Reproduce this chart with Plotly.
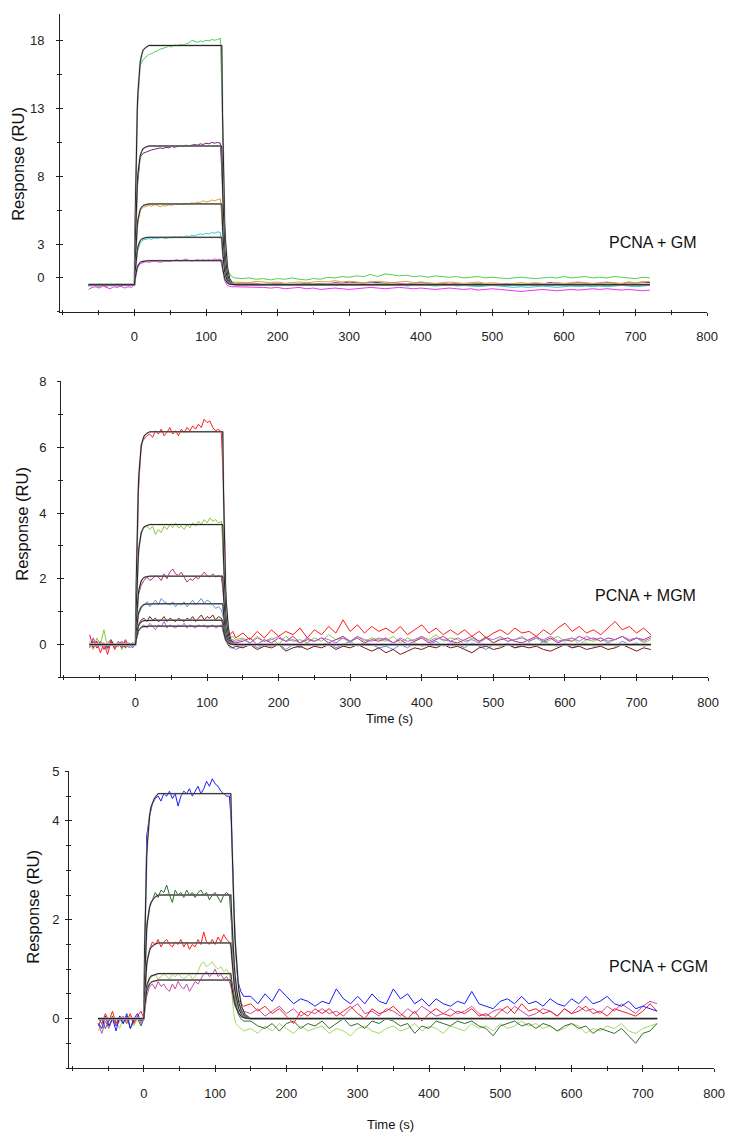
import plotly.graph_objects as go

# time grid of the measured traces (s)
T_BASE = [-64, -59, -54, -49, -44, -39, -34, -29, -24, -19, -14, -9, -4]
T_ASSOC = list(range(0, 121, 4))
T_FAST = [123, 126, 129, 132, 136, 140]
T_SLOW = list(range(150, 721, 10))
T_DATA = T_BASE + T_ASSOC + T_FAST + T_SLOW

# time grid of the fitted curves (s)
T_FIT = [-64, 0, 1, 2, 3, 4, 5, 6, 8, 10, 12, 15, 20, 30, 122,
         123, 124, 125, 126, 127, 128, 130, 133, 137, 142, 150, 720]

# ---------------- PCNA + GM ----------------
GM_GREEN = [
    -0.1, 0.05, -0.05, -0.15, 0.0, -0.1, 0.05, -0.05, -0.1, 0.0, -0.05, 0.0, -0.05,
    0.0, 13.0, 16.2, 16.6, 16.8, 17.0, 17.05, 17.2, 17.25, 17.4, 17.45, 17.5, 17.6, 17.55, 17.7,
    17.65, 17.75, 17.7, 17.8, 17.85, 18.05, 17.95, 17.9, 18.0, 17.95, 18.05, 18.0, 18.1, 18.05, 18.1, 18.2,
    12.5, 4.0, 1.6, 0.9, 0.6, 0.5,
    0.45, 0.5, 0.4, 0.45, 0.35, 0.45, 0.4, 0.5, 0.4, 0.35,
    0.45, 0.4, 0.55, 0.5, 0.6, 0.55, 0.65, 0.6, 0.75, 0.6,
    0.8, 0.7, 0.65, 0.7, 0.6, 0.65, 0.55, 0.65, 0.6, 0.55,
    0.6, 0.5, 0.55, 0.6, 0.5, 0.55, 0.5, 0.45, 0.5, 0.55,
    0.5, 0.45, 0.5, 0.55, 0.5, 0.6, 0.5, 0.55, 0.6, 0.5,
    0.55, 0.5, 0.6, 0.55, 0.5, 0.45, 0.55, 0.5,
]
GM_PURPLE = [
    -0.05, 0.0, -0.1, 0.05, -0.05, -0.1, 0.0, -0.05, 0.05, -0.1, 0.0, -0.05, 0.0,
    0.0, 7.2, 9.4, 9.7, 9.8, 9.9, 9.95, 10.0, 10.05, 10.1, 10.05, 10.15, 10.1, 10.2, 10.15,
    10.2, 10.25, 10.2, 10.3, 10.25, 10.3, 10.35, 10.3, 10.4, 10.35, 10.45, 10.4, 10.5, 10.45, 10.5, 10.45,
    7.3, 2.4, 0.8, 0.3, 0.15, 0.1,
    0.1, 0.05, 0.1, 0.0, 0.05, 0.1, 0.05, 0.0, 0.05, 0.1,
    0.05, 0.1, 0.05, 0.15, 0.1, 0.2, 0.15, 0.1, 0.2, 0.15,
    0.1, 0.15, 0.1, 0.05, 0.1, 0.15, 0.1, 0.05, 0.1, 0.05,
    0.1, 0.0, 0.05, 0.1, 0.05, 0.0, 0.05, 0.1, 0.05, 0.0,
    0.05, 0.1, 0.05, 0.15, 0.1, 0.05, 0.1, 0.15, 0.1, 0.05,
    0.1, 0.15, 0.1, 0.05, 0.15, 0.1, 0.2, 0.15,
]
GM_ORANGE = [
    -0.05, -0.1, 0.0, -0.05, 0.05, -0.1, -0.05, 0.0, -0.1, 0.05, -0.05, 0.0, -0.05,
    0.0, 4.3, 5.5, 5.7, 5.8, 5.85, 5.8, 5.9, 5.85, 5.75, 5.85, 5.8, 5.9, 5.85, 5.95,
    5.9, 5.95, 5.9, 6.0, 5.95, 6.05, 6.0, 6.1, 6.05, 6.2, 6.1, 6.15, 6.25, 6.2, 6.3, 6.35,
    4.3, 1.5, 0.55, 0.3, 0.2, 0.2,
    0.2, 0.15, 0.25, 0.2, 0.15, 0.2, 0.1, 0.15, 0.2, 0.15,
    0.2, 0.25, 0.2, 0.3, 0.2, 0.25, 0.2, 0.15, 0.2, 0.25,
    0.2, 0.15, 0.2, 0.25, 0.15, 0.2, 0.15, 0.1, 0.15, 0.2,
    0.15, 0.1, 0.15, 0.2, 0.1, 0.15, 0.1, 0.05, 0.1, 0.15,
    0.1, 0.15, 0.1, 0.05, 0.15, 0.1, 0.15, 0.2, 0.15, 0.1,
    0.15, 0.2, 0.15, 0.1, 0.2, 0.15, 0.2, 0.25,
]
GM_CYAN = [
    -0.1, -0.05, 0.0, -0.1, -0.05, 0.05, -0.1, -0.05, 0.0, -0.1, -0.05, 0.0, -0.05,
    0.0, 2.4, 3.1, 3.3, 3.35, 3.4, 3.35, 3.45, 3.4, 3.5, 3.45, 3.4, 3.5, 3.45, 3.55,
    3.5, 3.55, 3.5, 3.6, 3.55, 3.65, 3.6, 3.7, 3.75, 3.7, 3.8, 3.75, 3.85, 3.8, 3.9, 3.85,
    2.6, 0.9, 0.3, 0.1, 0.0, 0.0,
    0.0, 0.05, -0.05, 0.0, 0.05, 0.0, -0.05, 0.0, 0.05, 0.0,
    -0.05, 0.0, 0.05, 0.0, -0.05, 0.05, 0.0, -0.05, 0.0, 0.05,
    0.0, -0.05, 0.0, -0.1, -0.05, 0.0, -0.05, -0.1, -0.05, 0.0,
    -0.1, -0.05, -0.1, -0.15, -0.1, -0.05, -0.1, -0.15, -0.2, -0.15,
    -0.2, -0.15, -0.1, -0.15, -0.2, -0.15, -0.1, -0.15, -0.1, -0.15,
    -0.1, -0.15, -0.1, -0.05, -0.1, -0.15, -0.1, -0.05,
]
GM_MAGENTA = [
    -0.35, -0.2, -0.15, -0.25, -0.1, -0.2, -0.3, -0.15, -0.2, -0.1, -0.25, -0.15, -0.2,
    0.0, 1.2, 1.55, 1.65, 1.7, 1.65, 1.7, 1.75, 1.7, 1.65, 1.7, 1.75, 1.7, 1.75, 1.8,
    1.85, 1.75, 1.8, 1.9, 1.8, 1.75, 1.8, 1.85, 1.8, 1.85, 1.8, 1.85, 1.8, 1.9, 1.85, 1.9,
    1.2, 0.3, 0.0, -0.1, -0.15, -0.15,
    -0.15, -0.2, -0.15, -0.2, -0.25, -0.2, -0.3, -0.25, -0.2, -0.3,
    -0.25, -0.35, -0.3, -0.25, -0.3, -0.35, -0.3, -0.25, -0.2, -0.25,
    -0.3, -0.25, -0.2, -0.25, -0.3, -0.25, -0.3, -0.35, -0.3, -0.25,
    -0.3, -0.35, -0.3, -0.4, -0.35, -0.3, -0.35, -0.4, -0.45, -0.5,
    -0.45, -0.4, -0.35, -0.4, -0.45, -0.4, -0.35, -0.4, -0.35, -0.3,
    -0.35, -0.3, -0.35, -0.4, -0.35, -0.4, -0.45, -0.4,
]
GM_FIT_GREEN = [0, 0, 4.94, 8.65, 11.13, 13.07, 14.3, 15.19, 16.42, 16.95, 17.31, 17.48, 17.66, 17.66, 17.66,
                12.72, 9.0, 6.53, 4.59, 3.36, 2.47, 1.24, 0.44, 0.11, 0, 0, 0]
GM_FIT_PURPLE = [0, 0, 2.87, 5.02, 6.45, 7.58, 8.29, 8.81, 9.52, 9.83, 10.04, 10.14, 10.24, 10.24, 10.24,
                 7.37, 5.22, 3.79, 2.66, 1.95, 1.43, 0.72, 0.26, 0.06, 0, 0, 0]
GM_FIT_ORANGE = [0, 0, 1.67, 2.92, 3.75, 4.41, 4.83, 5.13, 5.54, 5.72, 5.84, 5.9, 5.96, 5.96, 5.96,
                 4.29, 3.04, 2.21, 1.55, 1.13, 0.83, 0.42, 0.15, 0.04, 0, 0, 0]
GM_FIT_CYAN = [0, 0, 0.98, 1.72, 2.21, 2.59, 2.84, 3.01, 3.26, 3.36, 3.43, 3.47, 3.5, 3.5, 3.5,
               2.52, 1.79, 1.3, 0.91, 0.67, 0.49, 0.25, 0.09, 0.02, 0, 0, 0]
GM_FIT_MAGENTA = [0, 0, 0.5, 0.87, 1.12, 1.31, 1.43, 1.52, 1.65, 1.7, 1.73, 1.75, 1.77, 1.77, 1.77,
                  1.27, 0.9, 0.65, 0.46, 0.34, 0.25, 0.12, 0.04, 0.01, 0, 0, 0]

# ---------------- PCNA + MGM ----------------
MGM_RED = [
    0.3, -0.1, 0.1, -0.25, 0.05, -0.3, 0.1, -0.15, 0.05, -0.1, 0.15, -0.05, 0.0,
    0.0, 4.6, 6.1, 6.25, 6.35, 6.4, 6.3, 6.5, 6.4, 6.55, 6.35, 6.45, 6.6, 6.4, 6.5,
    6.35, 6.55, 6.45, 6.6, 6.5, 6.65, 6.55, 6.7, 6.6, 6.85, 6.75, 6.8, 6.6, 6.5, 6.55, 6.45,
    4.8, 1.6, 0.6, 0.3, 0.4, 0.2,
    0.35, 0.15, 0.4, 0.2, 0.45, 0.25, 0.4, 0.3, 0.5, 0.2,
    0.45, 0.3, 0.55, 0.35, 0.75, 0.4, 0.6, 0.35, 0.55, 0.4,
    0.5, 0.35, 0.55, 0.3, 0.45, 0.6, 0.35, 0.5, 0.3, 0.45,
    0.3, 0.45, 0.25, 0.4, 0.2, 0.35, 0.45, 0.3, 0.5, 0.35,
    0.4, 0.25, 0.45, 0.3, 0.5, 0.65, 0.4, 0.55, 0.35, 0.45,
    0.3, 0.5, 0.7, 0.45, 0.55, 0.35, 0.5, 0.3,
]
MGM_GREEN = [
    0.1, -0.15, 0.2, 0.0, 0.45, -0.1, 0.15, -0.05, 0.1, -0.15, 0.05, 0.0, -0.05,
    0.0, 2.8, 3.45, 3.55, 3.6, 3.5, 3.6, 3.35, 3.5, 3.4, 3.6, 3.5, 3.65, 3.55, 3.7,
    3.55, 3.6, 3.5, 3.65, 3.55, 3.7, 3.6, 3.75, 3.65, 3.8, 3.7, 3.85, 3.75, 3.8, 3.7, 3.75,
    2.6, 0.9, 0.35, 0.2, 0.25, 0.15,
    0.2, 0.05, 0.25, 0.1, 0.2, 0.0, 0.25, 0.1, 0.15, 0.05,
    0.2, 0.1, 0.3, 0.15, 0.2, 0.05, 0.25, 0.1, 0.2, 0.15,
    0.1, 0.25, 0.05, 0.2, 0.1, 0.25, 0.15, 0.3, 0.1, 0.2,
    0.15, 0.0, 0.2, 0.1, 0.25, 0.05, 0.2, 0.1, 0.15, 0.25,
    0.1, 0.2, 0.05, 0.15, 0.25, 0.1, 0.2, 0.0, 0.15, 0.1,
    0.2, 0.05, 0.15, 0.25, 0.1, 0.2, 0.05, 0.15,
]
MGM_MAGENTA = [
    -0.1, 0.2, -0.05, 0.1, -0.15, 0.05, 0.15, -0.1, 0.0, 0.1, -0.05, 0.05, -0.1,
    0.0, 1.5, 1.8, 1.95, 2.05, 1.95, 2.0, 2.1, 2.05, 1.95, 2.15, 2.0, 2.2, 2.3, 2.15,
    2.1, 2.2, 2.05, 1.9, 2.0, 1.95, 2.05, 2.0, 2.1, 2.2, 2.1, 2.05, 2.15, 2.05, 2.1, 2.05,
    1.5, 0.5, 0.15, 0.05, 0.1, 0.05,
    0.1, 0.2, 0.0, 0.15, 0.05, 0.2, 0.1, 0.25, 0.05, 0.15,
    0.1, 0.2, 0.05, 0.15, 0.25, 0.1, 0.2, 0.05, 0.15, 0.1,
    0.2, 0.05, 0.15, 0.0, 0.1, 0.2, 0.05, 0.15, 0.25, 0.1,
    0.05, 0.15, 0.25, 0.1, 0.2, 0.05, 0.15, 0.2, 0.1, 0.05,
    0.15, 0.25, 0.1, 0.2, 0.05, 0.15, 0.1, 0.25, 0.15, 0.2,
    0.1, 0.2, 0.15, 0.25, 0.1, 0.2, 0.15, 0.25,
]
MGM_BLUE = [
    0.05, -0.1, 0.1, -0.05, 0.0, -0.15, 0.05, -0.1, 0.0, -0.05, 0.1, -0.1, -0.05,
    0.0, 0.9, 1.1, 1.2, 1.3, 1.15, 1.25, 1.35, 1.2, 1.4, 1.3, 1.25, 1.2, 1.3, 1.15,
    1.25, 1.2, 1.3, 1.15, 1.25, 1.35, 1.2, 1.3, 1.4, 1.25, 1.35, 1.3, 1.2, 1.1, 1.15, 1.05,
    0.8, 0.2, 0.0, -0.1, -0.1, -0.15,
    -0.05, 0.05, -0.1, 0.0, -0.05, 0.05, -0.15, 0.0, -0.1, 0.05,
    -0.05, 0.0, 0.05, -0.1, 0.0, 0.1, -0.05, 0.05, 0.0, -0.1,
    -0.05, -0.15, 0.0, -0.1, 0.05, -0.05, 0.0, 0.1, -0.05, 0.05,
    0.0, -0.1, 0.05, -0.05, -0.15, 0.0, -0.05, 0.05, -0.1, 0.0,
    0.05, -0.05, 0.1, 0.0, -0.05, 0.05, -0.1, 0.0, 0.05, -0.05,
    0.0, 0.05, -0.05, 0.1, 0.0, 0.05, -0.05, 0.0,
]
MGM_BROWN = [
    -0.05, 0.1, -0.1, 0.0, 0.05, -0.1, 0.1, 0.0, -0.05, 0.05, -0.1, 0.0, 0.05,
    0.0, 0.6, 0.75, 0.8, 0.7, 0.85, 0.75, 0.8, 0.7, 0.75, 0.85, 0.7, 0.8, 0.75, 0.7,
    0.8, 0.75, 0.7, 0.8, 0.75, 0.85, 0.7, 0.8, 0.9, 0.75, 0.85, 0.8, 0.9, 0.75, 0.85, 0.8,
    0.5, 0.15, 0.0, -0.05, -0.1, -0.05,
    -0.1, 0.0, -0.15, -0.05, -0.1, 0.0, -0.2, -0.1, -0.05, -0.15,
    -0.05, -0.1, 0.0, -0.15, -0.05, -0.1, 0.0, -0.1, -0.2, -0.1,
    -0.25, -0.15, -0.3, -0.2, -0.1, -0.15, -0.05, -0.1, 0.0, -0.1,
    -0.05, -0.15, -0.25, -0.1, -0.05, -0.15, -0.1, 0.0, -0.1, -0.05,
    -0.1, -0.05, -0.15, -0.2, -0.1, 0.0, -0.1, -0.05, -0.15, -0.1,
    -0.05, -0.15, -0.1, 0.0, -0.1, -0.2, -0.1, -0.15,
]
MGM_PURPLE = [
    0.0, 0.1, -0.05, 0.05, -0.1, 0.0, 0.05, -0.05, 0.1, 0.0, -0.05, 0.05, 0.0,
    0.0, 0.4, 0.55, 0.6, 0.5, 0.65, 0.55, 0.45, 0.6, 0.55, 0.7, 0.5, 0.6, 0.55, 0.5,
    0.6, 0.55, 0.65, 0.5, 0.6, 0.55, 0.5, 0.6, 0.55, 0.6, 0.5, 0.55, 0.6, 0.5, 0.55, 0.6,
    0.35, 0.1, 0.05, 0.1, 0.15, 0.1,
    0.15, 0.05, 0.2, 0.1, 0.15, 0.25, 0.1, 0.15, 0.05, 0.2,
    0.1, 0.2, 0.15, 0.05, 0.2, 0.1, 0.25, 0.15, 0.1, 0.2,
    0.15, 0.05, 0.2, 0.1, 0.15, 0.25, 0.1, 0.2, 0.15, 0.1,
    0.2, 0.1, 0.15, 0.05, 0.2, 0.15, 0.25, 0.1, 0.15, 0.2,
    0.1, 0.2, 0.15, 0.25, 0.1, 0.15, 0.2, 0.1, 0.25, 0.15,
    0.2, 0.1, 0.15, 0.25, 0.15, 0.2, 0.1, 0.2,
]
MGM_FIT_RED = [0, 0, 1.81, 3.17, 4.08, 4.79, 5.24, 5.56, 6.02, 6.21, 6.34, 6.41, 6.47, 6.47, 6.47,
               4.66, 3.3, 2.39, 1.68, 1.23, 0.91, 0.45, 0.16, 0.04, 0, 0, 0]
MGM_FIT_GREEN = [0, 0, 1.02, 1.79, 2.3, 2.7, 2.96, 3.14, 3.39, 3.5, 3.58, 3.61, 3.65, 3.65, 3.65,
                 2.63, 1.86, 1.35, 0.95, 0.69, 0.51, 0.26, 0.09, 0.02, 0, 0, 0]
MGM_FIT_MAGENTA = [0, 0, 0.58, 1.02, 1.31, 1.54, 1.68, 1.79, 1.93, 2.0, 2.04, 2.06, 2.08, 2.08, 2.08,
                   1.5, 1.06, 0.77, 0.54, 0.4, 0.29, 0.15, 0.05, 0.01, 0, 0, 0]
MGM_FIT_BLUE = [0, 0, 0.35, 0.61, 0.78, 0.92, 1.0, 1.07, 1.15, 1.19, 1.22, 1.23, 1.24, 1.24, 1.24,
                0.89, 0.63, 0.46, 0.32, 0.24, 0.17, 0.09, 0.03, 0.01, 0, 0, 0]
MGM_FIT_BROWN = [0, 0, 0.21, 0.36, 0.47, 0.55, 0.6, 0.64, 0.69, 0.71, 0.73, 0.73, 0.74, 0.74, 0.74,
                 0.53, 0.38, 0.27, 0.19, 0.14, 0.1, 0.05, 0.02, 0, 0, 0, 0]
MGM_FIT_PURPLE = [0, 0, 0.16, 0.27, 0.35, 0.41, 0.45, 0.48, 0.52, 0.54, 0.55, 0.55, 0.56, 0.56, 0.56,
                  0.4, 0.29, 0.21, 0.15, 0.11, 0.08, 0.04, 0.01, 0, 0, 0, 0]

# ---------------- PCNA + CGM ----------------
CGM_BLUE = [
    -0.1, -0.2, 0.05, -0.15, 0.0, -0.25, 0.05, -0.1, 0.1, -0.2, 0.0, 0.1, -0.05,
    0.0, 3.7, 4.1, 4.35, 4.45, 4.5, 4.4, 4.55, 4.5, 4.6, 4.45, 4.55, 4.3, 4.5, 4.6,
    4.55, 4.65, 4.5, 4.6, 4.7, 4.55, 4.65, 4.8, 4.7, 4.85, 4.75, 4.7, 4.6, 4.55, 4.5, 4.5,
    3.9, 2.4, 1.3, 0.75, 0.55, 0.45,
    0.45, 0.3, 0.5, 0.35, 0.6, 0.45, 0.3, 0.4, 0.35, 0.25,
    0.35, 0.3, 0.6, 0.4, 0.3, 0.45, 0.3, 0.5, 0.35, 0.3,
    0.6, 0.4, 0.5, 0.3, 0.4, 0.25, 0.4, 0.3, 0.25, 0.35,
    0.3, 0.55, 0.3, 0.25, 0.2, 0.35, 0.4, 0.3, 0.45, 0.3,
    0.35, 0.25, 0.4, 0.3, 0.25, 0.4, 0.3, 0.45, 0.3, 0.35,
    0.45, 0.3, 0.25, 0.35, 0.2, 0.25, 0.2, 0.15,
]
CGM_DKGREEN = [
    -0.15, 0.0, -0.2, -0.05, 0.05, -0.15, 0.0, -0.1, 0.05, -0.2, -0.05, 0.0, -0.15,
    0.0, 1.9, 2.25, 2.4, 2.55, 2.45, 2.6, 2.55, 2.7, 2.5, 2.35, 2.6, 2.5, 2.55, 2.45,
    2.6, 2.5, 2.55, 2.45, 2.55, 2.6, 2.5, 2.55, 2.4, 2.5, 2.55, 2.45, 2.35, 2.5, 2.55, 2.5,
    1.9, 0.9, 0.35, 0.1, 0.0, -0.05,
    -0.05, -0.15, -0.2, -0.1, -0.25, -0.1, -0.05, -0.2, -0.1, -0.15,
    -0.05, -0.2, -0.1, 0.0, -0.15, -0.1, -0.2, -0.05, -0.1, 0.0,
    -0.05, -0.15, -0.1, -0.3, -0.15, -0.2, -0.05, -0.1, -0.15, -0.05,
    -0.1, -0.05, -0.15, -0.2, -0.35, -0.15, -0.1, -0.05, -0.15, -0.1,
    -0.2, -0.1, -0.15, -0.25, -0.15, -0.1, -0.2, -0.15, -0.3, -0.2,
    -0.25, -0.3, -0.2, -0.35, -0.5, -0.3, -0.25, -0.1,
]
CGM_RED = [
    0.0, -0.1, 0.1, -0.05, 0.15, -0.1, 0.05, 0.0, -0.05, 0.1, -0.1, 0.05, 0.15,
    0.0, 1.1, 1.4, 1.55, 1.5, 1.6, 1.45, 1.55, 1.6, 1.5, 1.45, 1.55, 1.5, 1.6, 1.45,
    1.55, 1.4, 1.5, 1.45, 1.6, 1.5, 1.75, 1.55, 1.5, 1.6, 1.5, 1.65, 1.55, 1.7, 1.6, 1.55,
    1.4, 0.9, 0.55, 0.4, 0.3, 0.25,
    0.3, 0.15, 0.25, 0.1, 0.2, 0.05, -0.1, 0.15, 0.05, 0.2,
    0.1, 0.2, 0.05, 0.15, 0.25, 0.1, 0.0, 0.2, 0.1, 0.15,
    0.25, 0.1, 0.0, 0.15, -0.05, 0.1, 0.2, 0.1, 0.05, 0.15,
    0.1, 0.2, 0.05, 0.1, 0.0, 0.15, 0.25, 0.1, 0.3, 0.15,
    0.2, 0.1, 0.15, 0.05, 0.2, 0.1, 0.15, 0.25, 0.1, 0.15,
    0.05, 0.2, 0.15, 0.1, 0.05, 0.15, 0.3, 0.15,
]
CGM_LTGREEN = [
    -0.25, -0.1, 0.0, -0.15, 0.05, -0.05, -0.2, 0.0, -0.1, 0.05, -0.15, 0.0, -0.05,
    0.0, 0.6, 0.8, 0.85, 0.9, 0.8, 0.85, 0.9, 0.85, 0.8, 0.9, 0.85, 0.9, 0.85, 0.8,
    0.85, 0.9, 0.8, 0.85, 0.95, 1.1, 1.15, 1.05, 1.1, 1.15, 1.05, 1.0, 1.05, 0.95, 1.0, 0.9,
    0.6, 0.1, -0.1, -0.15, -0.2, -0.25,
    -0.2, -0.3, -0.15, -0.25, -0.1, -0.2, -0.3, -0.15, -0.25, -0.2,
    -0.15, -0.3, -0.2, -0.25, -0.35, -0.2, -0.15, -0.25, -0.3, -0.2,
    -0.15, -0.25, -0.2, -0.1, -0.25, -0.15, -0.2, -0.3, -0.15, -0.2,
    -0.25, -0.1, -0.2, -0.15, -0.25, -0.1, -0.2, -0.15, -0.05, -0.15,
    -0.1, -0.2, -0.15, -0.25, -0.2, -0.1, -0.15, -0.3, -0.2, -0.25,
    -0.15, -0.2, -0.1, -0.25, -0.3, -0.2, -0.15, -0.1,
]
CGM_MAGENTA = [
    -0.1, -0.3, -0.05, -0.2, 0.0, -0.15, -0.05, 0.05, -0.1, 0.0, -0.05, 0.05, -0.1,
    0.0, 0.45, 0.65, 0.7, 0.6, 0.75, 0.65, 0.7, 0.6, 0.55, 0.7, 0.6, 0.75, 0.65, 0.6,
    0.7, 0.55, 0.65, 0.75, 0.7, 0.8, 0.9, 0.95, 0.85, 0.9, 1.0, 0.85, 0.9, 0.8, 0.85, 0.75,
    0.6, 0.35, 0.25, 0.2, 0.15, 0.15,
    0.1, 0.2, 0.05, 0.15, 0.25, 0.1, 0.2, 0.05, 0.15, 0.1,
    0.2, 0.1, 0.15, 0.05, 0.2, 0.3, 0.1, 0.15, 0.05, 0.2,
    0.15, 0.05, 0.2, 0.1, 0.25, 0.15, 0.05, 0.1, 0.2, 0.1,
    0.15, 0.25, 0.1, 0.05, 0.15, 0.2, 0.1, 0.25, 0.15, 0.05,
    0.1, 0.2, 0.15, 0.05, 0.2, 0.1, 0.25, 0.15, 0.2, 0.1,
    0.25, 0.15, 0.3, 0.2, 0.1, 0.25, 0.35, 0.3,
]
CGM_FIT_BLUE = [0, 0, 1.37, 2.28, 2.87, 3.28, 3.55, 3.78, 4.1, 4.28, 4.37, 4.46, 4.55, 4.55, 4.55,
                3.87, 3.28, 2.73, 2.28, 1.91, 1.59, 1.09, 0.59, 0.25, 0.08, 0, 0]
CGM_FIT_DKGREEN = [0, 0, 0.75, 1.25, 1.58, 1.8, 1.95, 2.08, 2.25, 2.35, 2.4, 2.45, 2.5, 2.5, 2.5,
                   2.13, 1.8, 1.5, 1.25, 1.05, 0.88, 0.6, 0.33, 0.14, 0.05, 0, 0]
CGM_FIT_RED = [0, 0, 0.46, 0.77, 0.96, 1.1, 1.19, 1.27, 1.38, 1.44, 1.47, 1.5, 1.53, 1.53, 1.53,
               1.3, 1.1, 0.92, 0.77, 0.64, 0.54, 0.37, 0.2, 0.08, 0.03, 0, 0]
CGM_FIT_LTGREEN = [0, 0, 0.27, 0.46, 0.57, 0.66, 0.71, 0.76, 0.82, 0.86, 0.87, 0.89, 0.91, 0.91, 0.91,
                   0.77, 0.66, 0.55, 0.46, 0.38, 0.32, 0.22, 0.12, 0.05, 0.02, 0, 0]
CGM_FIT_MAGENTA = [0, 0, 0.23, 0.39, 0.49, 0.56, 0.61, 0.65, 0.7, 0.73, 0.75, 0.76, 0.78, 0.78, 0.78,
                   0.66, 0.56, 0.47, 0.39, 0.33, 0.27, 0.19, 0.1, 0.04, 0.01, 0, 0]

LABELS = ["PCNA + GM", "PCNA + MGM", "PCNA + CGM"]
X_TICKS = [0, 100, 200, 300, 400, 500, 600, 700, 800]
Y_TICKS = [[0.5, 3, 8, 13, 18], [0, 2, 4, 6, 8], [0, 2, 4, 5]]
Y_TICKTEXT = [["0", "3", "8", "13", "18"], ["0", "2", "4", "6", "8"], ["0", "2", "4", "5"]]

panels = [
    dict(data=[(GM_GREEN, "#55cc55"), (GM_PURPLE, "#7a1f7a"), (GM_ORANGE, "#e0a030"),
               (GM_CYAN, "#33cccc"), (GM_MAGENTA, "#ee33ee")],
         fits=[GM_FIT_GREEN, GM_FIT_PURPLE, GM_FIT_ORANGE, GM_FIT_CYAN, GM_FIT_MAGENTA],
         px=(60, 707), py=(14, 312), xr=[-104, 800], yr=[-2, 20],
         minor=dict(tick0=0.5, dtick=2.5), ystand=9, lab=(653, 243), xtitle=None),
    dict(data=[(MGM_GREEN, "#8cc63f"), (MGM_MAGENTA, "#b5307e"), (MGM_BLUE, "#5b8fe6"),
               (MGM_BROWN, "#7a1515"), (MGM_PURPLE, "#b562dd"), (MGM_RED, "#ff1a1a")],
         fits=[MGM_FIT_RED, MGM_FIT_GREEN, MGM_FIT_MAGENTA, MGM_FIT_BLUE, MGM_FIT_BROWN, MGM_FIT_PURPLE],
         px=(61, 708), py=(381.7, 677.7), xr=[-104, 800], yr=[-1, 8],
         minor=dict(tick0=0, dtick=1), ystand=8, lab=(645, 596), xtitle=(389, 719)),
    dict(data=[(CGM_LTGREEN, "#a8d862"), (CGM_DKGREEN, "#2e6e2e"), (CGM_MAGENTA, "#c54aa8"),
               (CGM_RED, "#ff1a1a"), (CGM_BLUE, "#1a1aff")],
         fits=[CGM_FIT_BLUE, CGM_FIT_DKGREEN, CGM_FIT_RED, CGM_FIT_LTGREEN, CGM_FIT_MAGENTA],
         px=(69, 714), py=(771.7, 1068.3), xr=[-105, 800], yr=[-1, 5],
         minor=dict(tick0=0, dtick=0.5), ystand=3, lab=(658, 967), xtitle=(390, 1125)),
]

W, H = 743, 1133
FONT = "Liberation Sans, Arial, sans-serif"
INK = "#222"

# the photographed page comes out slightly shifted/squeezed; place things so they land
# where the reference has them (px values above are reference pixels)
SHIFT_Y, SCALE_Y, SCALE_X = 7.2, 0.9939, 0.985


def fx(px):
    return px / SCALE_X / W


def fy(py):
    return 1 - (py - SHIFT_Y) / SCALE_Y / H


fig = go.Figure()
annotations = []
ytitle_pos = [(18, 164), (22, 524), (33, 907)]

for i, p in enumerate(panels):
    n = i + 1
    xa = "x" if n == 1 else f"x{n}"
    ya = "y" if n == 1 else f"y{n}"

    for vals, color in p["data"]:
        assert len(vals) == len(T_DATA), (color, len(vals))
        fig.add_trace(go.Scatter(x=T_DATA, y=vals, mode="lines", xaxis=xa, yaxis=ya,
                                 line=dict(color=color, width=1), showlegend=False,
                                 hoverinfo="skip"))
    for vals in p["fits"]:
        assert len(vals) == len(T_FIT), len(vals)
        fig.add_trace(go.Scatter(x=T_FIT, y=vals, mode="lines", xaxis=xa, yaxis=ya,
                                 line=dict(color="rgba(175,175,175,0.8)", width=1.8),
                                 showlegend=False, hoverinfo="skip"))
        fig.add_trace(go.Scatter(x=T_FIT, y=vals, mode="lines", xaxis=xa, yaxis=ya,
                                 line=dict(color="#111", width=0.9),
                                 showlegend=False, hoverinfo="skip"))

    axis_common = dict(showgrid=False, zeroline=False, showline=True, linecolor=INK,
                       linewidth=1, ticks="outside", tickcolor=INK, ticklen=3, tickwidth=1,
                       tickfont=dict(family=FONT, size=13, color=INK))
    xdom = [fx(p["px"][0]), fx(p["px"][1])]
    ydom = [fy(p["py"][1]), fy(p["py"][0])]
    fig.layout[f"xaxis{'' if n == 1 else n}"] = dict(
        axis_common, domain=xdom, range=p["xr"], anchor=ya,
        tickmode="array", tickvals=X_TICKS, ticklabelstandoff=10,
        minor=dict(tick0=0, dtick=50, ticks="outside", ticklen=2, tickcolor=INK))
    fig.layout[f"yaxis{'' if n == 1 else n}"] = dict(
        axis_common, domain=ydom, range=p["yr"], anchor=xa,
        tickmode="array", tickvals=Y_TICKS[i], ticktext=Y_TICKTEXT[i],
        ticklabelstandoff=p["ystand"],
        minor=dict(p["minor"], ticks="outside", ticklen=2, tickcolor=INK))

    # twin axes that only draw the inner half of each tick, so ticks cross the axis line
    xi, yi = f"x{n + 3}", f"y{n + 3}"
    fig.layout[f"xaxis{n + 3}"] = dict(
        overlaying=xa, anchor=ya, range=p["xr"], showgrid=False, zeroline=False,
        showline=False, showticklabels=False, ticks="inside", ticklen=3, tickcolor=INK,
        tickmode="array", tickvals=X_TICKS,
        minor=dict(tick0=0, dtick=50, ticks="inside", ticklen=2, tickcolor=INK))
    fig.layout[f"yaxis{n + 3}"] = dict(
        overlaying=ya, anchor=xa, range=p["yr"], showgrid=False, zeroline=False,
        showline=False, showticklabels=False, ticks="inside", ticklen=3, tickcolor=INK,
        tickmode="array", tickvals=Y_TICKS[i],
        minor=dict(p["minor"], ticks="inside", ticklen=2, tickcolor=INK))
    fig.add_trace(go.Scatter(x=[], y=[], xaxis=xi, yaxis=ya, showlegend=False))
    fig.add_trace(go.Scatter(x=[], y=[], xaxis=xa, yaxis=yi, showlegend=False))

    lx, ly = p["lab"]
    annotations.append(dict(text=LABELS[i], x=fx(lx), y=fy(ly), xref="paper", yref="paper",
                            showarrow=False, xanchor="center", yanchor="middle",
                            font=dict(family=FONT, size=16, color="#111")))
    tx, ty = ytitle_pos[i]
    annotations.append(dict(text="Response (RU)", x=fx(tx), y=fy(ty), xref="paper",
                            yref="paper", showarrow=False, textangle=-90,
                            xanchor="center", yanchor="middle",
                            font=dict(family=FONT, size=16.5, color="#111")))
    if p["xtitle"]:
        tx, ty = p["xtitle"]
        annotations.append(dict(text="Time (s)", x=fx(tx), y=fy(ty), xref="paper",
                                yref="paper", showarrow=False, xanchor="center",
                                yanchor="middle", font=dict(family=FONT, size=13, color="#111")))

fig.update_layout(width=W, height=H, margin=dict(l=0, r=0, t=0, b=0),
                  paper_bgcolor="white", plot_bgcolor="white",
                  annotations=annotations, showlegend=False)

# pin the 743x1133 figure to the top-left corner of the window
fig.write_html("out.html", config={"displayModeBar": False},
               post_script="document.body.style.margin='0px';"
                           "document.body.style.overflow='hidden';"
                           "var gd=document.getElementById('{plot_id}');"
                           "gd.style.position='absolute';gd.style.left='0px';gd.style.top='0px';")
